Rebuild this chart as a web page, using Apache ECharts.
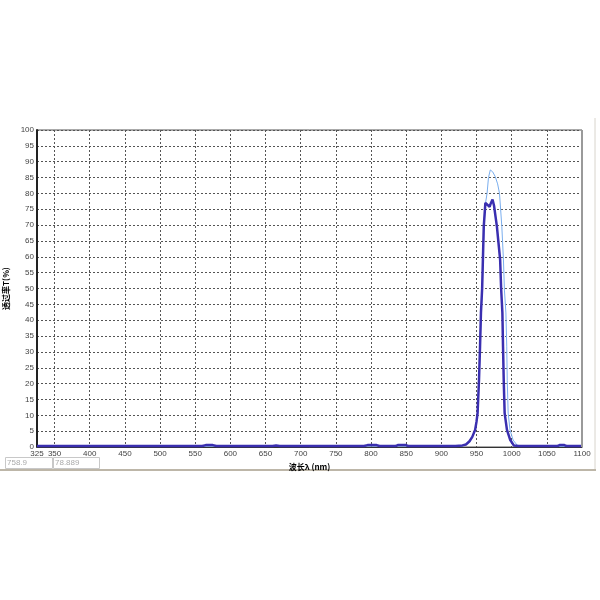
<!DOCTYPE html>
<html>
<head>
<meta charset="utf-8">
<script src="https://cdn.jsdelivr.net/npm/echarts@6/dist/echarts.min.js"></script>
<style>
  html, body { margin: 0; padding: 0; background: #fff; }
  #chart { width: 600px; height: 600px; }
</style>
</head>
<body>
<div id="chart"></div>
<script>
// Wavelength labels / grid positions (nm)
var xLabels = [325, 350, 400, 450, 500, 550, 600, 650, 700, 750, 800, 850, 900, 950, 1000, 1050, 1100];
var xGrid = [350, 400, 450, 500, 550, 600, 650, 700, 750, 800, 850, 900, 950, 1000, 1050];

// Measured transmittance, thick dark curve
var darkWl = [325, 560, 565, 575, 580, 660, 665, 670, 790, 795, 808, 812, 835, 838, 850, 853,
  920, 930, 935, 940, 944, 948, 950, 951.5, 953.5, 955, 956.3, 958, 960.3, 962.6, 965, 968.6,
  970.5, 972.8, 975, 979, 983.6, 985, 986.8, 987.7, 988.7, 990, 993.3, 998, 1003, 1010,
  1065, 1068, 1075, 1078, 1100];
var darkT = [0.3, 0.3, 0.6, 0.6, 0.3, 0.3, 0.5, 0.3, 0.3, 0.6, 0.6, 0.3, 0.3, 0.6, 0.6, 0.3,
  0.3, 0.5, 0.8, 1.8, 3.2, 5.4, 8, 10.7, 21, 31.6, 42.3, 50, 69.5, 77, 76.5, 75.8,
  77, 78.1, 76, 69.5, 59, 50, 42.3, 31.6, 21, 10.7, 5.4, 2.2, 0.5, 0.3,
  0.3, 0.6, 0.6, 0.3, 0.3];

// Thin light-blue curve
var lightWl = [325, 930, 940, 948, 951.5, 953.5, 955, 956.5, 958.2, 960.5, 962.8, 965, 967,
  969.6, 973, 976.6, 980, 982.7, 986, 988.3, 989.7, 991.8, 993, 993.7, 995, 997.6, 1002,
  1008, 1015, 1100];
var lightT = [0.2, 0.3, 1.5, 5, 10.5, 20.5, 31, 42, 50, 69.5, 77, 80, 85,
  87.4, 86.8, 85.3, 83, 80, 69.5, 59, 49.5, 42.3, 31.6, 21, 10.7, 5.4, 2.2,
  0.5, 0.2, 0.2];

var readX = '758.9';
var readY = '78.889';

function pairs(xs, ys) {
  return xs.map(function (x, i) { return [x, ys[i]]; });
}

var chart = echarts.init(document.getElementById('chart'));
var labelFont = { fontSize: 8, color: '#444', fontFamily: 'Arial, "Liberation Sans", sans-serif' };

chart.setOption({
  animation: false,
  backgroundColor: '#fff',
  grid: {
    left: 37, right: 18, top: 130, bottom: 153,
    containLabel: false,
    outerBoundsMode: 'none',
    show: true, borderColor: '#555', borderWidth: 1,
  },
  xAxis: {
    type: 'value',
    min: 325, max: 1100,
    name: '波长λ (nm)',
    nameLocation: 'middle',
    nameGap: 15,
    nameTextStyle: { fontSize: 8, fontWeight: 'bold', color: '#000', fontFamily: '"Noto Sans CJK SC", sans-serif' },
    axisLine: { lineStyle: { color: '#333', width: 1 } },
    axisTick: { show: false, customValues: xGrid },
    axisLabel: Object.assign({ customValues: xLabels, margin: 3, formatter: function (v) { return String(v); } }, labelFont),
    splitLine: { show: true, lineStyle: { color: '#555', type: [2, 2], width: 1 } },
  },
  yAxis: {
    type: 'value',
    min: 0, max: 100, interval: 5,
    name: '透过率T(%)',
    nameLocation: 'middle',
    nameGap: 26,
    nameTextStyle: { fontSize: 8, fontWeight: 'bold', color: '#000', fontFamily: '"Noto Sans CJK SC", sans-serif' },
    axisLine: { show: true, lineStyle: { color: '#222', width: 2 } },
    axisTick: { show: false },
    axisLabel: Object.assign({ margin: 3 }, labelFont),
    splitLine: { show: true, lineStyle: { color: '#555', type: [2, 2], width: 1 } },
  },
  series: [
    {
      name: 'light',
      type: 'line',
      showSymbol: false,
      lineStyle: { color: '#7aaeee', width: 1 },
      data: pairs(lightWl, lightT),
      z: 2,
    },
    {
      name: 'dark',
      type: 'line',
      showSymbol: false,
      lineStyle: { color: '#3a2fb0', width: 2.5 },
      data: pairs(darkWl, darkT),
      z: 3,
    },
  ],
  graphic: [
    // right border of the plot
    { type: 'line', shape: { x1: 582, y1: 130, x2: 582, y2: 447 }, style: { stroke: '#9a9a9a', lineWidth: 2 }, z: 10 },
    // outer panel frame
    { type: 'line', shape: { x1: 595, y1: 118, x2: 595, y2: 470 }, style: { stroke: '#d8d4cc', lineWidth: 1 } },
    { type: 'line', shape: { x1: 0, y1: 470, x2: 596, y2: 470 }, style: { stroke: '#bdb6a8', lineWidth: 2 } },
    // readout boxes
    { type: 'rect', shape: { x: 5.5, y: 457.5, width: 47, height: 11 }, style: { fill: '#fff', stroke: '#c8c8c8', lineWidth: 1 } },
    { type: 'rect', shape: { x: 53.5, y: 457.5, width: 46, height: 11 }, style: { fill: '#fff', stroke: '#c8c8c8', lineWidth: 1 } },
    { type: 'text', left: 7, top: 459, style: { text: readX, fontSize: 8, fill: '#aaa', fontFamily: 'Arial, sans-serif' } },
    { type: 'text', left: 55, top: 459, style: { text: readY, fontSize: 8, fill: '#aaa', fontFamily: 'Arial, sans-serif' } },
  ],
});
</script>
</body>
</html>
